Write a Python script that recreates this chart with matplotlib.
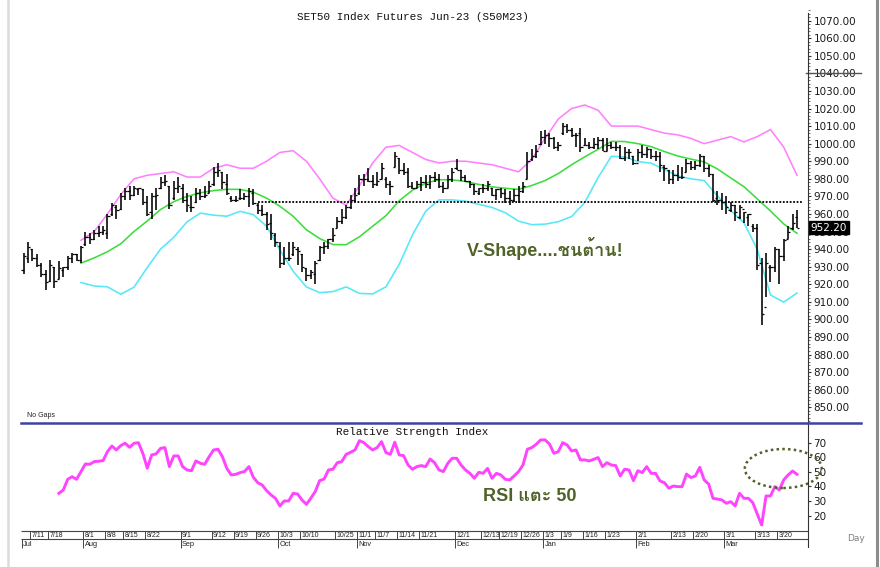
import matplotlib
matplotlib.use("Agg")
import matplotlib.pyplot as plt
from matplotlib.patches import Ellipse
from matplotlib.lines import Line2D
from matplotlib.transforms import blended_transform_factory
from matplotlib import font_manager as fm
from matplotlib.ft2font import FT2Font

# ---------------- data ----------------
title = "SET50 Index Futures Jun-23 (S50M23)"
rsi_title = "Relative Strength Index"

opens = [928, 935, 940, 935, 931, 926, 922, 930, 923, 928,
         930, 935, 937, 934, 943, 947, 946, 949, 950, 949,
         960, 964, 963, 970, 973, 971, 974, 974, 967, 961,
         970, 975, 978, 976, 969, 975, 975, 968, 964, 967,
         972, 970, 972, 977, 984, 984, 977, 969, 968, 969,
         969, 970, 972, 965, 962, 960, 955, 948, 942, 932,
         935, 937, 940, 937, 929, 925, 926, 934, 941, 942,
         946, 952, 956, 958, 964, 968, 972, 980, 980, 979,
         977, 980, 980, 977, 987, 992, 985, 984, 976, 975,
         977, 978, 977, 981, 980, 976, 975, 980, 986, 985,
         981, 979, 977, 972, 975, 975, 975, 971, 974, 972,
         969, 968, 971, 973, 980, 991, 993, 1000, 1004, 1005,
         1003, 998, 1006, 1010, 1008, 1005, 1006, 999, 999, 998,
         1000, 1002, 996, 999, 998, 998, 992, 995, 993, 989,
         995, 994, 997, 993, 993, 987, 985, 980, 982, 981,
         984, 989, 987, 988, 993, 986, 983, 969, 968, 967,
         962, 965, 958, 963, 958, 953, 952, 932, 907, 930,
         930, 940, 936, 946, 952, 958]
highs = [938, 944, 940, 937, 932, 928, 934, 930, 933, 930,
         936, 938, 937, 942, 950, 949, 951, 953, 953, 960,
         966, 965, 972, 975, 976, 976, 975, 974, 970, 972,
         975, 981, 982, 976, 979, 981, 977, 972, 970, 975,
         974, 976, 979, 987, 989, 984, 983, 970, 970, 974,
         972, 975, 974, 966, 965, 961, 960, 949, 944, 941,
         944, 944, 941, 937, 929, 928, 933, 942, 944, 946,
         952, 958, 963, 965, 971, 975, 982, 983, 986, 982,
         984, 989, 981, 979, 995, 992, 989, 986, 978, 979,
         981, 982, 982, 984, 983, 978, 982, 986, 991, 985,
         982, 979, 977, 975, 977, 979, 975, 974, 975, 974,
         973, 974, 976, 978, 995, 997, 999, 1007, 1008, 1006,
         1004, 1001, 1012, 1011, 1009, 1006, 1009, 1003, 1001, 1003,
         1004, 1003, 1003, 1001, 1001, 999, 998, 997, 993, 997,
         999, 998, 997, 996, 995, 988, 985, 985, 988, 987,
         991, 990, 990, 994, 993, 988, 983, 973, 972, 970,
         967, 965, 965, 961, 960, 954, 954, 935, 938, 931,
         941, 940, 946, 953, 960, 962]
lows = [926, 932, 933, 930, 924, 917, 921, 918, 923, 924,
        928, 932, 933, 932, 942, 943, 945, 947, 948, 946,
        959, 957, 962, 968, 968, 970, 971, 965, 959, 957,
        962, 974, 976, 963, 968, 972, 966, 961, 961, 966,
        968, 969, 972, 976, 981, 974, 971, 967, 967, 968,
        968, 964, 965, 960, 959, 951, 945, 941, 929, 931,
        933, 936, 931, 927, 922, 923, 920, 933, 937, 940,
        944, 952, 954, 957, 963, 967, 971, 976, 978, 975,
        976, 980, 975, 971, 987, 983, 982, 975, 974, 975,
        973, 975, 974, 978, 975, 972, 975, 978, 985, 979,
        978, 975, 971, 971, 972, 973, 970, 968, 969, 966,
        965, 967, 966, 972, 980, 990, 992, 999, 1000, 998,
        997, 996, 1005, 1006, 1004, 998, 995, 999, 997, 997,
        997, 996, 996, 997, 996, 991, 990, 991, 988, 990,
        992, 992, 991, 990, 984, 979, 977, 977, 979, 980,
        984, 985, 985, 987, 984, 981, 967, 965, 962, 960,
        961, 956, 957, 955, 953, 950, 928, 897, 913, 921,
        927, 920, 933, 946, 951, 952]
closes = [936, 941, 935, 931, 926, 921, 931, 922, 929, 930,
          935, 937, 934, 941, 947, 946, 949, 950, 951, 959,
          965, 962, 970, 973, 971, 975, 975, 967, 960, 970,
          971, 978, 979, 965, 975, 976, 968, 965, 964, 972,
          970, 971, 976, 984, 985, 978, 972, 968, 968, 969,
          970, 973, 966, 962, 960, 954, 949, 944, 932, 935,
          935, 941, 939, 930, 925, 927, 932, 941, 942, 946,
          948, 956, 958, 964, 968, 971, 980, 980, 979, 977,
          979, 986, 977, 976, 993, 985, 984, 976, 975, 977,
          978, 977, 981, 980, 976, 975, 980, 984, 985, 981,
          979, 977, 973, 975, 975, 977, 971, 974, 972, 969,
          968, 971, 973, 976, 990, 993, 996, 1004, 1005, 1003,
          998, 999, 1010, 1008, 1005, 1005, 998, 999, 998, 1000,
          1002, 996, 999, 998, 998, 992, 995, 995, 989, 995,
          994, 997, 993, 993, 988, 986, 980, 982, 981, 981,
          989, 987, 988, 993, 986, 983, 968, 968, 967, 964,
          965, 961, 964, 961, 960, 952, 931, 903, 932, 930,
          940, 936, 945, 950, 955, 952.2]

band_days = list(range(13, 176, 3))
upper_band = [945, 950, 960, 971, 980, 982, 983, 984, 981, 981,
              986, 988, 986, 986, 990, 995, 996, 990, 980, 969,
              965, 976, 989, 998, 999, 995, 991, 989, 990, 990,
              989, 988, 986, 984, 991, 1003, 1014, 1020, 1022, 1019,
              1010, 1010, 1010, 1008, 1006, 1005, 1003, 1000, 1002, 1004,
              1001, 1004, 1008, 998, 982]
middle_band = [932, 935, 938.5, 943, 950, 956, 962.5, 967, 970, 972,
               973.3, 974, 974, 972.4, 969, 964.4, 958.7, 951, 946, 942.6,
               942.5, 947, 953, 959, 967.5, 973.5, 977.5, 979.5, 979.4, 978.5,
               976.8, 975.4, 974.6, 974, 976.2, 979, 983, 988, 992.5, 996.8,
               1001.3, 1001.2, 1000, 998.3, 995.5, 993, 991.2, 989.6, 985.6, 980.5,
               975.5, 968.6, 961.7, 954.3, 949]
lower_band = [921, 919, 918.5, 914.3, 918.3, 929.5, 940, 946.7, 955.5, 960.5,
              959.3, 958.7, 961.5, 959.6, 953, 939.5, 927.4, 918.5, 915.2, 915.8,
              918.5, 914.8, 914.5, 918.5, 931.3, 948, 961.6, 968, 968, 967.3,
              965.5, 963.7, 960.7, 955.9, 953.9, 954.2, 955.6, 958.5, 966.6, 980.7,
              992.8, 992.5, 989.8, 988.9, 985.3, 981.6, 980, 979, 970.3, 961.9,
              955, 939.9, 913.9, 909.8, 915]

rsi_start = 8
rsi_values = [35.3, 37.6, 44.9, 46.7, 44.9, 50.2, 55.4, 55.2, 57, 57.3,
              57.7, 63.9, 67.7, 65, 68, 69.6, 66.8, 69.6, 70, 62.7,
              52.5, 61.6, 62.3, 66.1, 66.6, 53.6, 60.9, 60.9, 53.6, 51.3,
              50.8, 57.5, 55.9, 55.2, 60.4, 65, 65.5, 60.4, 52.4, 47.9,
              48.3, 49.5, 50.2, 53.6, 46.3, 42.6, 41, 37.2, 34.2, 31.9,
              26.7, 30.1, 30.1, 35.3, 34.9, 30.8, 27.8, 31.9, 36.5, 44,
              45.1, 51.3, 51.8, 56.3, 57, 62, 63.4, 65, 71.4, 70,
              67.3, 65, 66.6, 70.7, 63.2, 62, 70.3, 61.6, 61.1, 54.7,
              51.8, 53.6, 54.3, 53.6, 58.8, 56.3, 51.3, 50.2, 55.9, 59.3,
              59.3, 54.7, 51.3, 49, 45.6, 49.7, 49, 52.4, 45.6, 49,
              47.9, 44.9, 44.5, 47.2, 50.2, 54.7, 65.5, 66.6, 68.9, 71.9,
              71.9, 69.1, 62.7, 63.9, 70, 68.4, 64.3, 65, 58.2, 58.2,
              57.5, 58.6, 59.8, 53.6, 56.3, 54.7, 54.3, 47.2, 51.8, 51.3,
              44, 50.8, 49.5, 53.6, 49, 49, 43.8, 42.6, 38.8, 40.3,
              39.9, 39.9, 48.5, 46.1, 47.2, 53.1, 44.5, 41.7, 31.9, 31.4,
              30.8, 28.5, 29.6, 26.7, 35.3, 31.9, 31.9, 28.9, 21.2, 13.6,
              33.5, 33.5, 39.9, 37.6, 44.5, 47.9, 50.6, 48.3]

resistance_level = 967
last_price = 952.20
marker_level = 1040
price_ticks = list(range(850, 1071, 10))
rsi_ticks = [20, 30, 40, 50, 60, 70]

date_labels = ['7/11', '7/18', '8/1', '8/8', '8/15', '8/22', '9/1', '9/12', '9/19',
               '9/26', '10/3', '10/10', '10/25', '11/1', '11/7', '11/14', '11/21',
               '12/1', '12/13', '12/19', '12/26', '1/3', '1/9', '1/16', '1/23',
               '2/1', '2/13', '2/20', '3/1', '3/13', '3/20']
date_days = [2, 6, 14, 19, 23, 28, 36, 43, 48, 53, 58, 63, 71, 76, 80, 85, 90,
             98, 104, 108, 113, 118, 122, 127, 132, 139, 147, 152, 159, 166, 171]
month_labels = ['Jul', 'Aug', 'Sep', 'Oct', 'Nov', 'Dec', 'Jan', 'Feb', 'Mar']
month_days = [0, 14, 36, 58, 76, 98, 118, 139, 159]

note_price = "V-Shape....ชนต้าน!"
note_rsi = "RSI แตะ 50"

# ---------------- fonts ----------------
thai_font = None
for f in fm.fontManager.ttflist:
    try:
        if 0x0E0A in FT2Font(f.fname).get_charmap():
            thai_font = f.name
            break
    except Exception:
        pass
note_family = ['Liberation Sans'] + ([thai_font] if thai_font else []) + ['DejaVu Sans']

# ---------------- layout ----------------
W, H = 880, 567
fig = plt.figure(figsize=(W / 100, H / 100), dpi=100)
fig.patch.set_facecolor('white')


def X(px):
    return px / W


def Y(py):
    return 1 - py / H


L_PX, R_PX = 21, 808
XLIM = (-0.566, 177.49)

ax = fig.add_axes([X(L_PX), Y(422), X(R_PX) - X(L_PX), Y(8) - Y(422)])
ax.set_xlim(*XLIM)
ax.set_ylim(841.6, 1077.2)
for s in ax.spines.values():
    s.set_visible(False)
ax.set_xticks([])
ax.yaxis.tick_right()
ax.set_yticks(price_ticks)
ax.set_yticklabels([f"{v:.2f}" for v in price_ticks])
ax.set_yticks(list(range(842, 1077, 2)), minor=True)
ax.tick_params(axis='y', which='major', direction='out', length=2.5, width=0.8,
               pad=1.5, labelsize=7.5, labelcolor='#1a1a1a', color='#333333')
ax.tick_params(axis='y', which='minor', direction='out', length=1.2, width=0.6,
               color='#555555')

days = list(range(len(closes)))
ax.plot(band_days, upper_band, color='#ff80ff', lw=1.15, zorder=1)
ax.plot(band_days, middle_band, color='#3ddc3d', lw=1.15, zorder=1)
ax.plot(band_days, lower_band, color='#55e8f8', lw=1.15, zorder=1)

ax.vlines(days, lows, highs, colors='black', lw=1.15, zorder=2)
ax.hlines(opens, [d - 0.5 for d in days], days, colors='black', lw=0.9, zorder=2)
ax.hlines(closes, days, [d + 0.5 for d in days], colors='black', lw=0.9, zorder=2)

ax.plot([53, 176.4], [resistance_level, resistance_level], color='black', lw=1.3,
        ls=(0, (1, 0.9)), zorder=3)

tr = blended_transform_factory(ax.transAxes, ax.transData)
ax.plot([0.997, 1.067], [marker_level + 0.4] * 2, transform=tr, color='#555555',
        lw=1.0, clip_on=False)
ax.text(1.0035, last_price, f"{last_price:.2f}", transform=tr, color='white',
        fontsize=7.5, va='center', ha='left', zorder=6, clip_on=False,
        bbox=dict(facecolor='black', edgecolor='black', pad=1.2))

ax.text(100.3, 940.6, note_price, fontsize=13, fontweight='bold', color='#4f6228',
        family=note_family, va='center', ha='left')

# RSI panel
axr = fig.add_axes([X(L_PX), Y(530), X(R_PX) - X(L_PX), Y(425) - Y(530)])
axr.set_xlim(*XLIM)
axr.set_ylim(10.2, 82.1)
for s in axr.spines.values():
    s.set_visible(False)
axr.set_xticks([])
axr.yaxis.tick_right()
axr.set_yticks(rsi_ticks)
axr.set_yticklabels([str(v) for v in rsi_ticks])
axr.tick_params(axis='y', direction='out', length=2.5, width=0.8, pad=1.5,
                labelsize=7.5, labelcolor='#1a1a1a', color='#333333')
axr.plot(range(rsi_start, rsi_start + len(rsi_values)), rsi_values,
         color='#ff44ff', lw=2.1, solid_joinstyle='round')
axr.add_patch(Ellipse((171.9, 52.3), 17.4, 26.7, fill=False, edgecolor='#4f6228',
                      lw=1.8, ls=(0, (1, 1.3)), clip_on=False, zorder=5))
axr.text(104, 32.8, note_rsi, fontsize=13, fontweight='bold', color='#4f6228',
         family=note_family, va='center', ha='left')

# date strip
axd = fig.add_axes([X(L_PX), Y(550), X(R_PX) - X(L_PX), Y(530) - Y(550)])
axd.set_xlim(*XLIM)
axd.set_ylim(550, 530)
axd.axis('off')
axd.hlines([530.5, 539.3], XLIM[0], XLIM[1], colors='#444444', lw=0.8)
for lab, d in zip(date_labels, date_days):
    axd.vlines(d - 0.45, 530.5, 539.3, colors='#444444', lw=0.7)
    axd.text(d - 0.15, 535.2, lab, fontsize=5, va='center', ha='left',
             family='Liberation Sans', color='#222222')
for lab, d in zip(month_labels, month_days):
    axd.vlines(d - 0.45, 539.3, 548, colors='#444444', lw=0.7)
    axd.text(d - 0.15, 544.5, lab, fontsize=5.3, va='center', ha='left',
             family='Liberation Sans', color='#222222')

# figure-level decorations
fig.text(X(412.9), Y(16.7), title, ha='center', va='center',
         family='Liberation Mono', fontsize=7.9, color='#111111')
fig.text(X(412.6), Y(431.7), rsi_title, ha='center', va='center',
         family='Liberation Mono', fontsize=7.9, color='#111111')
fig.text(X(26.5), Y(415.7), 'No Gaps', fontsize=5, family='Liberation Sans',
         va='center', ha='left', color='#222222')
fig.text(X(847), Y(538.5), 'Day', fontsize=6.5, color='#808080', va='center', ha='left')

fig.add_artist(Line2D([X(7.5)] * 2, [0, 1], color='#dcdcdc', lw=1.8))
fig.add_artist(Line2D([X(877)] * 2, [0, 1], color='#8c8c8c', lw=2.2))
fig.add_artist(Line2D([X(808)] * 2, [Y(13), Y(547)], color='#333333', lw=0.8))
fig.add_artist(Line2D([X(21), X(861)], [Y(423)] * 2, color='#3d43a0', lw=1.8))

fig.savefig('out.png', dpi=100, facecolor='white')
